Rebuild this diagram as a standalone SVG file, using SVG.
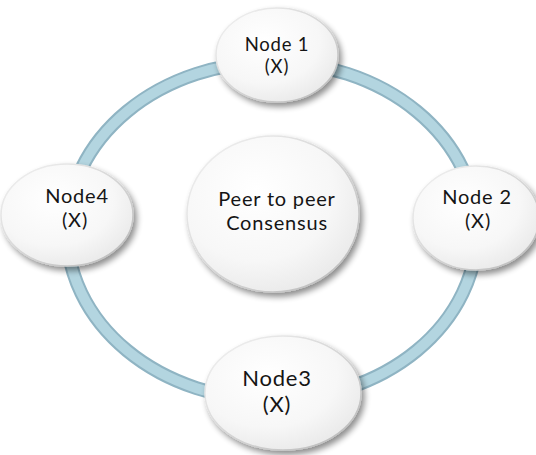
<svg xmlns="http://www.w3.org/2000/svg" width="536" height="455" viewBox="0 0 536 455">
  <defs>
    <radialGradient id="discFill" cx="0.4" cy="0.35" r="0.75">
      <stop offset="0" stop-color="#ffffff"/>
      <stop offset="0.6" stop-color="#f7f7f7"/>
      <stop offset="1" stop-color="#e6e6e6"/>
    </radialGradient>
    <linearGradient id="rimFill" x1="0" y1="0" x2="1" y2="1">
      <stop offset="0" stop-color="#f4f4f4"/>
      <stop offset="1" stop-color="#b8b8b8"/>
    </linearGradient>
    <filter id="softShadow" x="-20%" y="-20%" width="150%" height="150%">
      <feGaussianBlur in="SourceAlpha" stdDeviation="3"/>
      <feOffset dx="3" dy="4" result="blur"/>
      <feComponentTransfer><feFuncA type="linear" slope="0.45"/></feComponentTransfer>
      <feMerge><feMergeNode/><feMergeNode in="SourceGraphic"/></feMerge>
    </filter>
  </defs>
  <style>
    .ring-edge { fill: none; stroke: #8fb4c3; stroke-width: 14; }
    .ring-core { fill: none; stroke: #b3d5e0; stroke-width: 10; }
    .disc { fill: url(#discFill); stroke: url(#rimFill); stroke-width: 1.5; filter: url(#softShadow); }
    .label { font-family: Lato, "Open Sans", sans-serif; fill: #151515; text-anchor: middle; letter-spacing: 0.8px; }
  </style>
  <rect width="536" height="455" fill="#ffffff"/>

  <!-- ring linking the four peers -->
  <g id="connectors">
    <ellipse class="ring-edge" cx="272" cy="231" rx="205" ry="169"/>
    <ellipse class="ring-core" cx="272" cy="231" rx="205" ry="169"/>
  </g>

  <g id="consensus">
    <ellipse class="disc" cx="273" cy="214" rx="86" ry="78"/>
    <text class="label" x="277" y="206" font-size="20">Peer to peer</text>
    <text class="label" x="277" y="230" font-size="20">Consensus</text>
  </g>

  <g id="node1">
    <ellipse class="disc" cx="277" cy="55" rx="61" ry="47"/>
    <text class="label" x="277" y="51" font-size="18.5">Node 1</text>
    <text class="label" x="277" y="73" font-size="18.5">(X)</text>
  </g>

  <g id="node2">
    <ellipse class="disc" cx="476" cy="218" rx="63" ry="52"/>
    <text class="label" x="477" y="204" font-size="20">Node 2</text>
    <text class="label" x="478" y="228" font-size="20">(X)</text>
  </g>

  <g id="node3">
    <ellipse class="disc" cx="283" cy="393" rx="78" ry="57"/>
    <text class="label" x="277" y="386" font-size="22" letter-spacing="1.2">Node3</text>
    <text class="label" x="277" y="412" font-size="22">(X)</text>
  </g>

  <g id="node4">
    <ellipse class="disc" cx="67" cy="215" rx="66" ry="51"/>
    <text class="label" x="77" y="203" font-size="20">Node4</text>
    <text class="label" x="75" y="227" font-size="20">(X)</text>
  </g>
</svg>
